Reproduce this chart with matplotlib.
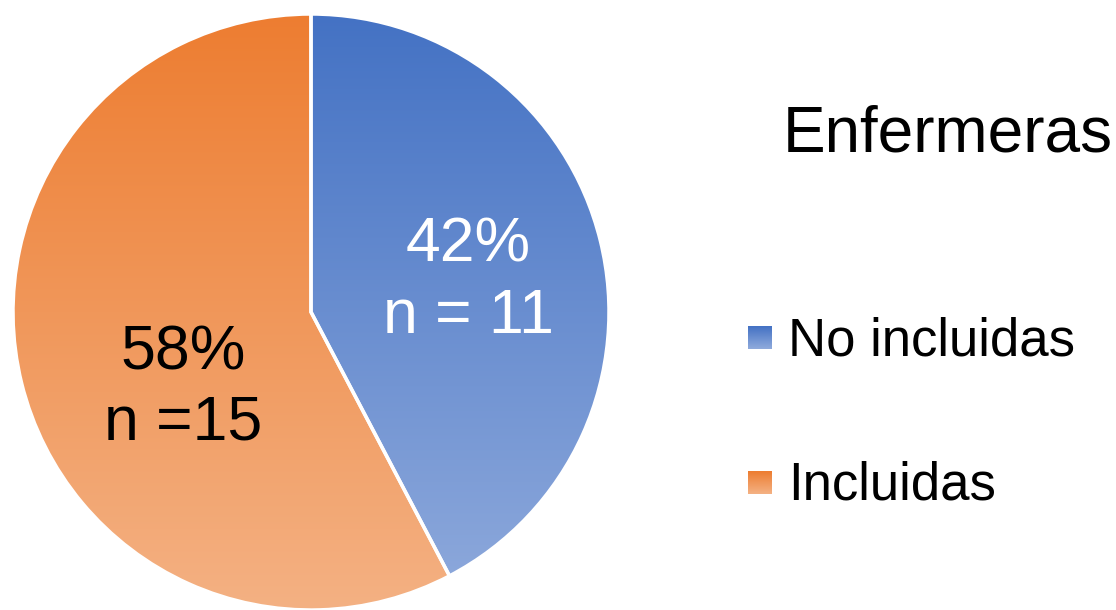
import numpy as np
import matplotlib
matplotlib.use("Agg")
import matplotlib.pyplot as plt
from matplotlib.colors import to_rgb

plt.rcParams['font.family'] = ['Liberation Sans', 'DejaVu Sans']

title = "Enfermeras"
categories = ["No incluidas", "Incluidas"]
counts = [11, 15]
percent_labels = ["42%", "58%"]
n_labels = ["n = 11", "n =15"]
top_colors = ["#4472C4", "#ED7D31"]
bottom_colors = ["#8FAADC", "#F4B183"]
label_colors = ["white", "black"]

W, H = 1116, 610
fig = plt.figure(figsize=(W / 100, H / 100), dpi=100)
R = 298
cx, cy = 311, 312
ax = fig.add_axes([(cx - R) / W, (H - cy - R) / H, 2 * R / W, 2 * R / H])

wedges, _ = ax.pie(counts, startangle=90, counterclock=False, radius=1,
                   colors=top_colors, wedgeprops=dict(linewidth=0))

def grad_img(c_top, c_bot, n=256):
    t = np.linspace(0, 1, n)[:, None]
    a = np.array(to_rgb(c_top)); b = np.array(to_rgb(c_bot))
    img = a[None, None, :] * (1 - t[..., None]) + b[None, None, :] * t[..., None]
    return np.repeat(img, 2, axis=1)

for w, ct, cb in zip(wedges, top_colors, bottom_colors):
    w.set_facecolor('none')
    im = ax.imshow(grad_img(ct, cb), extent=[-1, 1, -1, 1], origin='upper',
                   aspect='auto', zorder=1, interpolation='bilinear')
    im.set_clip_path(w)

ax.set_xlim(-1, 1)
ax.set_ylim(-1, 1)
ax.set_aspect('equal')
ax.axis('off')

for w in wedges:
    w.set_edgecolor('white')
    w.set_linewidth(2.5)
    w.set_zorder(2)

def dx(px):
    return (px - cx) / R

def dy(py):
    return (cy - py) / R

label_x = [468, 183]
pct_base = [262, 369]
n_base = [333, 440]
for i in range(len(counts)):
    ax.text(dx(label_x[i]), dy(pct_base[i]), percent_labels[i], ha='center',
            va='baseline', fontsize=45, color=label_colors[i], zorder=3)
    ax.text(dx(label_x[i]), dy(n_base[i]), n_labels[i], ha='center',
            va='baseline', fontsize=45, color=label_colors[i], zorder=3)

def fy(py):
    return (H - py) / H

fig.text(783 / W, fy(152), title, fontsize=46, va='baseline', ha='left')

leg_rows = [355, 500]
for name, ct, cb, base in zip(categories, top_colors, bottom_colors, leg_rows):
    sq = fig.add_axes([748 / W, fy(base - 6), 23 / W, 23 / H])
    sq.imshow(grad_img(ct, cb, 32), aspect='auto', origin='upper')
    sq.axis('off')
    fig.text(788 / W, fy(base), name, fontsize=38, va='baseline', ha='left')

fig.savefig("out.png", dpi=100)
